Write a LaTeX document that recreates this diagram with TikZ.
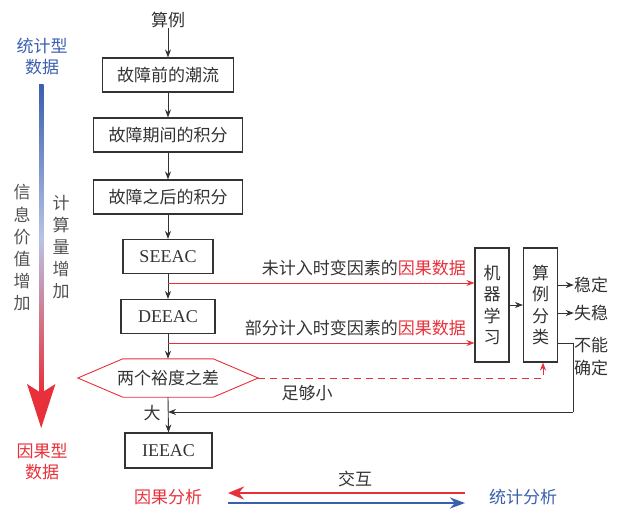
\documentclass[tikz,border=0pt]{standalone}
\usepackage{fontspec}
\setmainfont{Liberation Serif}
\newfontfamily\cjk{Noto Sans CJK SC}
\usetikzlibrary{arrows.meta,calc}
\definecolor{dk}{HTML}{333333}
\definecolor{rd}{HTML}{E8303A}
\definecolor{bl}{HTML}{3A5FAE}
\definecolor{midc}{HTML}{B8C4E6}
\begin{document}
\begin{tikzpicture}[x=1pt,y=-1pt,
  txt/.style={font=\cjk\fontsize{17}{20}\selectfont, text=dk, inner sep=0pt},
  box/.style={draw=dk, line width=1.1pt, font=\cjk\fontsize{17}{20}\selectfont, text=dk, minimum height=34pt, inner sep=0pt},
  lbox/.style={draw=dk, line width=1.1pt, font=\fontsize{18}{20}\selectfont, text=dk, minimum height=34pt, inner sep=0pt},
  vbox/.style={draw=dk, line width=1.1pt, font=\cjk\fontsize{17}{21.5}\selectfont, text=dk, minimum width=34pt, minimum height=114pt, inner sep=0pt, align=center},
  arr/.style={draw=dk, line width=0.9pt, -{Stealth[length=8pt,width=6pt]}},
  rarr/.style={draw=rd, line width=0.9pt, -{Stealth[length=8pt,width=6pt]}},
]
\useasboundingbox (0,0) rectangle (620,508);
% main chain
\node[txt] (start) at (168,20) {算例};
\node[box, minimum width=131pt] (b1) at (168,75) {故障前的潮流};
\node[box, minimum width=149pt] (b2) at (168,135) {故障期间的积分};
\node[box, minimum width=149pt] (b3) at (168,197) {故障之后的积分};
\node[lbox, minimum width=90pt] (seeac) at (168,256.5) {SEEAC};
\node[lbox, minimum width=94pt] (deeac) at (168,316.5) {DEEAC};
\node[txt, minimum width=180pt, minimum height=38pt] (hex) at (168,378) {两个裕度之差};
\draw[rd, line width=0.9pt] (hex.west) -- ([xshift=45pt]hex.north west) -- ([xshift=-45pt]hex.north east) -- (hex.east) -- ([xshift=-45pt]hex.south east) -- ([xshift=45pt]hex.south west) -- cycle;
\node[lbox, minimum width=87pt, minimum height=35pt] (ieeac) at (168.5,450.5) {IEEAC};

\draw[arr] (start) -- (b1);
\draw[arr] (b1) -- (b2);
\draw[arr] (b2) -- (b3);
\draw[arr] (b3) -- (seeac);
\draw[arr] (seeac) -- (deeac);
\draw[arr] (deeac) -- (hex.north);
\draw[arr] (hex.south) -- (ieeac.north);

% ML boxes
\node[vbox] (ml) at (492,305) {机\\器\\学\\习};
\node[vbox] (cls) at (540.5,305) {算\\例\\分\\类};
\draw[arr] (ml.east) -- (cls.west);

\coordinate (s1) at (168,283);
\coordinate (s2) at (168,343);
\draw[rarr] (s1) -- (s1 -| ml.west);
\draw[rarr] (s2) -- (s2 -| ml.west);
\node[txt, anchor=east] (lab1) at (466,268) {未计入时变因素的\textcolor{rd}{因果数据}};
\node[txt, anchor=east] (lab2) at (466,328) {部分计入时变因素的\textcolor{rd}{因果数据}};

% outputs
\node[txt] (wd) at (591,285) {稳定};
\node[txt] (sw) at (591,313) {失稳};
\node[txt, align=center, font=\cjk\fontsize{17}{23}\selectfont] (bn) at (591,357) {不能\\确定};
\draw[arr] (wd.west -| cls.east) -- (wd.west);
\draw[arr] (sw.west -| cls.east) -- (sw.west);

% feedback
\coordinate (c1) at (573,343);
\coordinate (c2) at (573,412);
\coordinate (c3) at (168,412);
\draw[dk, line width=0.9pt] (c1 -| cls.east) -- (c1) -- (c2);
\draw[arr] (c2) -- (c3);
\node[txt] (da) at (152,413) {大};

% dashed
\coordinate (d1) at (543,378);
\draw[rd, line width=0.9pt, dashed, dash pattern=on 7pt off 5pt, -{Stealth[length=8pt,width=6pt]}] (hex.east) -- (d1) -- (d1 |- cls.south);
\node[txt] (zgx) at (307,393) {足够小};

% bottom
\node[txt, text=rd] (yg) at (168,497) {因果分析};
\node[txt, text=bl] (tj) at (523,497) {统计分析};
\node[txt] (jh) at (355,479) {交互};
\coordinate (r1) at (465,493);
\coordinate (r2) at (228,493);
\coordinate (q1) at (228,503);
\coordinate (q2) at (465,503);
\draw[rd, line width=2.6pt, -{Stealth[length=16pt,width=13pt]}] (r1) -- (r2);
\draw[bl, line width=2.6pt, -{Stealth[length=15pt,width=11pt]}] (q1) -- (q2);

% left side
\node[txt, text=bl, align=center, font=\cjk\fontsize{17}{21}\selectfont] (tjx) at (42,57) {统计型\\数据};
\node[txt, text=rd, align=center, font=\cjk\fontsize{17}{21}\selectfont] (ygx) at (42,462) {因果型\\数据};
\shade[top color=bl, bottom color=rd, middle color=midc] (39,85) rectangle (43.5,392);
\fill[rd] (41.2,428) -- (27,384) -- (41.2,393) -- (55.4,384) -- cycle;
\node[txt, align=center, font=\cjk\fontsize{17}{22.2}\selectfont, text=dk!85] (xx) at (22,248) {信\\息\\价\\值\\增\\加};
\node[txt, align=center, font=\cjk\fontsize{17}{22}\selectfont, text=dk!85] (js) at (61,247) {计\\算\\量\\增\\加};
\end{tikzpicture}
\end{document}
